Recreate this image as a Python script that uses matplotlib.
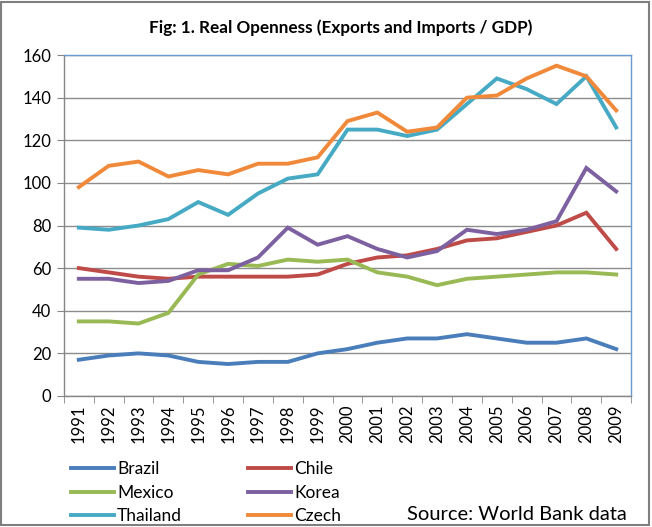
import matplotlib
matplotlib.use('Agg')
import matplotlib.pyplot as plt
from matplotlib.lines import Line2D
from matplotlib.patches import Rectangle

plt.rcParams['font.family'] = ['Lato', 'DejaVu Sans']

# Dados
anos = [str(a) for a in range(1991, 2010)]
brazil   = [17, 19, 20, 19, 16, 15, 16, 16, 20, 22, 25, 27, 27, 29, 27, 25, 25, 27, 22]
chile    = [60, 58, 56, 55, 56, 56, 56, 56, 57, 62, 65, 66, 69, 73, 74, 77, 80, 86, 69]
mexico   = [35, 35, 34, 39, 57, 62, 61, 64, 63, 64, 58, 56, 52, 55, 56, 57, 58, 58, 57]
korea    = [55, 55, 53, 54, 59, 59, 65, 79, 71, 75, 69, 65, 68, 78, 76, 78, 82, 107, 96]
thailand = [79, 78, 80, 83, 91, 85, 95, 102, 104, 125, 125, 122, 125, 137, 149, 144, 137, 150, 126]
czech    = [98, 108, 110, 103, 106, 104, 109, 109, 112, 129, 133, 124, 126, 140, 141, 149, 155, 150, 134]

series = [('Brazil', brazil, '#4A7EBB'), ('Chile', chile, '#BE4B48'),
          ('Mexico', mexico, '#98B954'), ('Korea', korea, '#7D60A0'),
          ('Thailand', thailand, '#46AAC5'), ('Czech', czech, '#F08A3A')]

fig = plt.figure(figsize=(6.52, 5.27), dpi=100)
ax = fig.add_axes([0.098, 0.2486, 0.870, 0.647])

x = list(range(len(anos)))
for nome, vals, cor in series:
    ax.plot(x, vals, color=cor, linewidth=2.8, solid_joinstyle='miter')

ax.set_ylim(0, 160)
ax.set_yticks(range(0, 161, 20))
ax.set_xlim(-0.5, len(anos) - 0.5)
ax.set_xticks(x)
ax.set_xticklabels(anos, rotation=90, fontsize=12)
ax.set_xticks([i - 0.5 for i in range(len(anos) + 1)], minor=True)
ax.tick_params(axis='x', which='major', length=0, pad=6)
ax.tick_params(axis='x', which='minor', length=5, color='#868686', direction='out')
ax.tick_params(axis='y', length=5, color='#868686', labelsize=12, pad=4)
ax.grid(axis='y', color='#8C8C8C', linewidth=1.0)
ax.set_axisbelow(True)
for s in ['left', 'bottom']:
    ax.spines[s].set_color('#868686')
    ax.spines[s].set_linewidth(1.0)
for s in ['top', 'right']:
    ax.spines[s].set_color('#6A9AD0')
    ax.spines[s].set_linewidth(1.0)

fig.text(0.522, 0.948, 'Fig: 1. Real Openness (Exports and Imports / GDP)',
         ha='center', va='center', fontsize=12.3, fontweight='bold')

# Legenda manual em duas colunas (ordem por linha, como no Excel)
handles = {nome: Line2D([], [], color=cor, linewidth=2.8) for nome, _, cor in series}
ordem = ['Brazil', 'Mexico', 'Thailand', 'Chile', 'Korea', 'Czech']
fig.legend([handles[n] for n in ordem], ordem, ncol=2, loc='lower left',
           bbox_to_anchor=(0.085, -0.024), frameon=False, fontsize=12.5,
           handlelength=2.45, handletextpad=0.2, columnspacing=3.8,
           labelspacing=0.42)

fig.text(0.962, 0.008, 'Source: World Bank data', ha='right', va='bottom', fontsize=14.5)

fig.patches.append(Rectangle((0.002, 0.003), 0.994, 0.994, transform=fig.transFigure,
                             fill=False, edgecolor='#7F7F7F', linewidth=1.5))

fig.savefig('out.png', dpi=100)
